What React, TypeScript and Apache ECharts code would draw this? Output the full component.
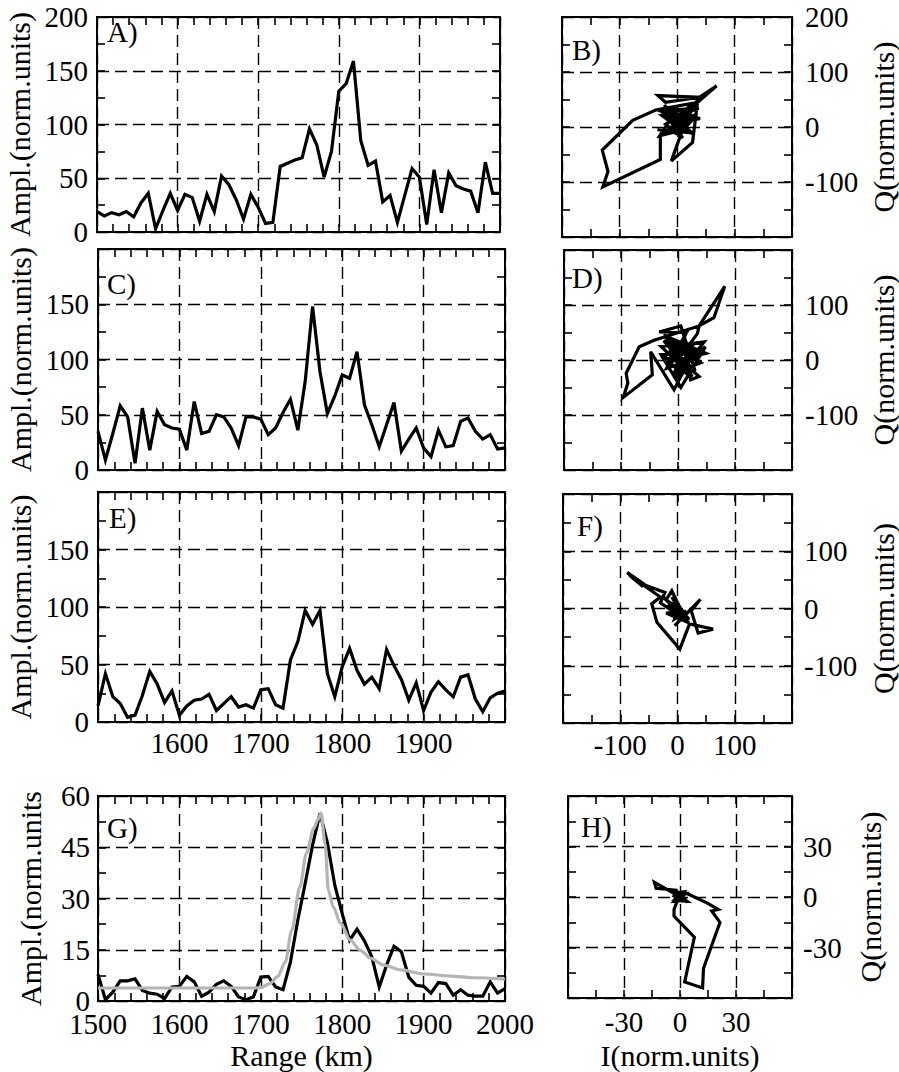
import React, { useEffect, useRef } from 'react';
import * as echarts from 'echarts';

// ---------------- DATA ----------------
const RANGE_KM = [
  1500, 1509.1, 1518.2, 1527.3, 1536.4, 1545.5, 1554.5, 1563.6, 1572.7, 1581.8, 1590.9,
  1600, 1609.1, 1618.2, 1627.3, 1636.4, 1645.5, 1654.5, 1663.6, 1672.7, 1681.8, 1690.9,
  1700, 1709.1, 1718.2, 1727.3, 1736.4, 1745.5, 1754.5, 1763.6, 1772.7, 1781.8, 1790.9,
  1800, 1809.1, 1818.2, 1827.3, 1836.4, 1845.5, 1854.5, 1863.6, 1872.7, 1881.8, 1890.9,
  1900, 1909.1, 1918.2, 1927.3, 1936.4, 1945.5, 1954.5, 1963.6, 1972.7, 1981.8, 1990.9,
  2000,
];

const AMP_A = [19, 15, 18, 16, 19, 14, 27, 36, 3, 20, 36, 20, 35, 32, 10, 35, 19, 52, 44, 30, 12, 35, 23, 8, 9, 61, 64, 67, 69, 96, 81, 51, 75, 131, 138, 159, 85, 62, 66, 28, 34, 9, 34, 59, 51, 7, 58, 18, 55, 43, 40, 38, 18, 65, 36, 36];
const AMP_C = [35, 9, 33, 58, 48, 6, 56, 18, 53, 41, 38, 37, 18, 62, 33, 35, 50, 48, 38, 22, 48, 48, 46, 32, 38, 52, 64, 36, 80, 148, 89, 51, 67, 86, 83, 107, 59, 41, 21, 41, 61, 17, 28, 38, 20, 12, 36, 21, 22, 44, 47, 35, 28, 32, 19, 20];
const AMP_E = [14, 42, 22, 16, 4, 6, 23, 44, 33, 17, 27, 6, 14, 19, 20, 24, 10, 16, 22, 13, 15, 12, 28, 29, 15, 12, 54, 70, 97, 85, 97, 42, 22, 48, 64, 45, 33, 39, 29, 63, 49, 37, 19, 34, 10, 26, 35, 28, 22, 39, 41, 20, 9, 21, 25, 27];
const AMP_G = [7.8, 0.4, 2.6, 5.9, 5.9, 6.5, 3.1, 2.3, 2.0, 0.7, 4.1, 4.3, 7.2, 5.6, 1.4, 2.6, 4.9, 5.9, 4.3, 1.2, 0.4, 1.2, 7.0, 7.2, 4.1, 3.3, 11.4, 23.7, 34.4, 45.6, 55, 46.4, 33.9, 25.6, 17.8, 21, 17.6, 12.9, 4.1, 10.5, 16, 14.4, 7.0, 4.6, 4.3, 2.3, 5.4, 5.1, 1.7, 3.3, 1.7, 1.4, 1.4, 5.6, 2.3, 3.6];

const MODEL_G_RANGE = [1500, 1550, 1600, 1650, 1690, 1700, 1711, 1721, 1730, 1738, 1748, 1756, 1765, 1770, 1774, 1779, 1783, 1789, 1798, 1810, 1822, 1835, 1851, 1872, 1901, 1933, 1962, 2000];
const MODEL_G_AMP = [3.8, 3.8, 3.8, 3.8, 3.8, 3.9, 5.1, 7.2, 11.4, 20.7, 33.4, 43.2, 50.5, 53, 55, 46, 32.4, 27.5, 22.7, 17.8, 14.9, 12.5, 10.5, 9.1, 7.9, 7.3, 6.8, 6.4];

const IQ_B_I = [10, -8, 14, -10, 15, -5, 22, -20, 2, 18, -28, 12, 30, -25, 8, -30, -10, 38, -32, 26, 8, -34, 20, -4, 5, 39, -33, -20, 39, 69, 36, -37, -77, -130, -120, -129, -29, -29, 20, -10, 27, 36, -5, 30, -22, 3, 35, -15, 25, -20, 10, -25, 5, 40, -10, 15];
const IQ_B_Q = [16, 12, -8, 13, 10, -13, 14, 30, -3, -10, 22, 16, 16, 20, -6, -16, 16, 34, 30, 12, -9, -5, -10, 7, -7, 54, 57, 45, 54, 75, 45, 31, 12, -42, -81, -109, -59, -16, 25, -62, -28, 48, 10, -15, 40, -2, 25, -10, 40, 5, -20, 30, 10, 15, 35, 5];

const IQ_D_I = [5, -15, 20, -25, 10, -5, 25, -20, 15, -10, 30, -30, 5, 35, -20, 15, -33, 5, 30, -12, 46, -5, 20, -25, 49, 0, 34, 37, 63, 82, 37, -42, -68, -91, -88, -96, -45, -48, -7, 15, 37, 22, 10, -20, 25, -15, 45, -30, 5, 48, -10, 40, -25, 15, 0, -12];
const IQ_D_Q = [10, 20, -5, 5, 35, -20, 15, 40, -25, 10, 30, 25, -10, 5, -15, 50, 51, 62, -20, 25, 33, -35, 20, 45, 12, 0, 48, 62, 77, 134, 62, 36, 24, -24, -42, -68, -27, 15, -54, -10, -30, -36, 25, -5, -30, 30, 12, 10, -50, 24, -25, -5, 35, -15, 20, -8];

const IQ_F_I = [5, -20, 10, -5, 3, -4, 15, -25, 20, -8, 12, -3, 8, -15, 12, -10, 6, -12, 18, -9, 10, -10, -20, 20, -8, -30, -22, -55, -88, -60, -84, -30, -45, -36, 4, 21, 62, 36, 24, 40, 10, -5, 15, -18, 6, -8, 20, -12, 8, -20, 15, -5, 3, -10, 12, -6];
const IQ_F_Q = [-10, 15, -5, -10, 2, 4, -15, 20, -20, 12, -8, 5, -12, 8, -14, 20, -5, 8, -16, 7, -10, 31, 15, -18, -5, 10, 28, 40, 63, 38, 58, 20, 8, -24, -71, -27, -36, -43, -4, 16, -15, -30, -10, 5, -8, -12, -25, 10, -20, -8, -5, -18, 5, -10, -20, -4];

const IQ_H_I = [-3, 0, 1.2, -2.4, 1.8, -3, 1.2, -0.6, 1.2, 0, -1.8, 2.4, -3, 1.8, -0.6, -1.2, 2.4, -2.4, 1.8, 0.6, 0, -0.6, -3, 3.6, -1.8, -1.2, -3.2, -3.2, 7.7, 2.5, 12.1, 12.6, 21.4, 17, 20.5, 14.4, 2, -3, -13.7, -12.8, -2, 1, -3, 3, -2, 1, -4, 3, -1, 2, -2, 0, 1, -3, 2, -3];
const IQ_H_Q = [3.6, 0.3, -1.2, 2.4, 3, -2.4, 1.2, -1.2, 0, -0.6, 1.8, -0.6, 3, -3, 0.6, 1.2, 1.8, -2.4, -1.8, -0.6, 0, 0.6, 3, -2.4, -1.8, -1.5, -7.4, -11.3, -23.9, -50.5, -54, -42.3, -15.1, -8.3, -7.4, -3.5, 3, 2, 8.7, 5.2, 4, -2, -3, 2, 3, -1.5, 1, -2, 1, 2, -1, -1.4, 1, -3, -1, 2];

// ---------------- STYLE / LAYOUT ----------------
const FONT = 'Liberation Serif';
const BLACK = '#000';
const GRAY = '#b4b4b4';
const TICK_FS = 29;
const NAME_FS = 30;

type Box = { left: number; top: number; right: number; bottom: number };
const GRIDS: Box[] = [
  { left: 97, top: 17, right: 500, bottom: 232 },   // A
  { left: 562, top: 17, right: 793, bottom: 237 },  // B
  { left: 98, top: 249, right: 505, bottom: 470 },  // C
  { left: 564, top: 250, right: 794, bottom: 470 }, // D
  { left: 98, top: 492, right: 505, bottom: 722 },  // E
  { left: 563, top: 494, right: 796, bottom: 723 }, // F
  { left: 98, top: 796, right: 505, bottom: 1001 }, // G
  { left: 568, top: 796, right: 792, bottom: 998 }, // H
];

const LETTERS: [string, number, number][] = [
  ['A)', 107, 32], ['B)', 572, 50], ['C)', 107, 284], ['D)', 572, 278],
  ['E)', 109, 518], ['F)', 577, 526], ['G)', 107, 828], ['H)', 581, 827],
];

const tick = { show: true, inside: true, length: 8, lineStyle: { color: BLACK, width: 1.6 } };
const minorT = (n: number) => ({ show: true, splitNumber: n, length: 8, lineStyle: { color: BLACK, width: 1.6 } });
const frameLine = { show: true, onZero: false, lineStyle: { color: BLACK, width: 2 } };
const dashed = { show: true, lineStyle: { color: BLACK, width: 1.4, type: [12, 6] } };
const nameStyle = { fontFamily: FONT, fontSize: NAME_FS, color: BLACK };

type Lab = { show: boolean; min?: boolean; max?: boolean; margin: number };

function axisPair(
  dim: 'x' | 'y', g: number, min: number, max: number, interval: number, minorSplit: number,
  mainPos: string, otherPos: string, lab: Lab, name?: { text: string; gap: number },
) {
  const base = {
    type: 'value', gridIndex: g, min, max, interval,
    axisLine: frameLine, axisTick: tick, minorTick: minorT(minorSplit),
    minorSplitLine: { show: false },
  };
  const main: any = {
    ...base, position: mainPos, splitLine: dashed,
    axisLabel: {
      show: lab.show, showMinLabel: lab.min ?? true, showMaxLabel: lab.max ?? true,
      margin: lab.margin, fontFamily: FONT, fontSize: TICK_FS, color: BLACK,
      formatter: (v: number) => String(v),
    },
  };
  if (name) {
    Object.assign(main, {
      name: name.text, nameLocation: 'middle', nameGap: name.gap, nameTextStyle: nameStyle,
      ...(dim === 'y' ? { nameRotate: 90 } : {}),
    });
  }
  const sec = { ...base, position: otherPos, splitLine: { show: false }, axisLabel: { show: false } };
  return [main, sec];
}

const pairs = (xs: number[], ys: number[]) => xs.map((x, i) => [x, ys[i]]);

function lineSeries(g: number, data: number[][], color: string, width: number, extra: any = {}) {
  return {
    type: 'line', xAxisIndex: 2 * g, yAxisIndex: 2 * g, data,
    showSymbol: false, symbol: 'none', clip: true,
    lineStyle: { color, width, join: 'miter', miterLimit: 4 }, ...extra,
  };
}

function buildOption(): any {
  const grid = GRIDS.map((b) => ({
    left: b.left, top: b.top, width: b.right - b.left, height: b.bottom - b.top,
    show: true, borderColor: BLACK, borderWidth: 2, backgroundColor: 'transparent',
  }));

  const xAxis = [
    ...axisPair('x', 0, 1500, 2000, 100, 5, 'bottom', 'top', { show: false, margin: 6 }),
    ...axisPair('x', 1, -200, 200, 100, 2, 'bottom', 'top', { show: false, margin: 6 }),
    ...axisPair('x', 2, 1500, 2000, 100, 5, 'bottom', 'top', { show: false, margin: 6 }),
    ...axisPair('x', 3, -200, 200, 100, 2, 'bottom', 'top', { show: false, margin: 6 }),
    ...axisPair('x', 4, 1500, 2000, 100, 5, 'bottom', 'top', { show: true, min: false, max: false, margin: 6 }),
    ...axisPair('x', 5, -200, 200, 100, 2, 'bottom', 'top', { show: true, min: false, max: false, margin: 7 }),
    ...axisPair('x', 6, 1500, 2000, 100, 5, 'bottom', 'top', { show: true, margin: 8 }, { text: 'Range (km)', gap: 39 }),
    ...axisPair('x', 7, -60, 60, 30, 2, 'bottom', 'top', { show: true, min: false, max: false, margin: 9 }, { text: 'I(norm.units)', gap: 42 }),
  ];

  const yAxis = [
    ...axisPair('y', 0, 0, 200, 50, 2, 'left', 'right', { show: true, margin: 9 }, { text: 'Ampl.(norm.units)', gap: 63 }),
    ...axisPair('y', 1, -200, 200, 100, 2, 'right', 'left', { show: true, min: false, margin: 13 }, { text: 'Q(norm.units)', gap: 76 }),
    ...axisPair('y', 2, 0, 200, 50, 2, 'left', 'right', { show: true, max: false, margin: 9 }, { text: 'Ampl.(norm.units)', gap: 63 }),
    ...axisPair('y', 3, -200, 200, 100, 2, 'right', 'left', { show: true, min: false, max: false, margin: 13 }, { text: 'Q(norm.units)', gap: 76 }),
    ...axisPair('y', 4, 0, 200, 50, 2, 'left', 'right', { show: true, max: false, margin: 9 }, { text: 'Ampl.(norm.units)', gap: 63 }),
    ...axisPair('y', 5, -200, 200, 100, 2, 'right', 'left', { show: true, min: false, max: false, margin: 12 }, { text: 'Q(norm.units)', gap: 76 }),
    ...axisPair('y', 6, 0, 60, 15, 2, 'left', 'right', { show: true, margin: 8 }, { text: 'Ampl.(norm.units', gap: 53 }),
    ...axisPair('y', 7, -60, 60, 30, 2, 'right', 'left', { show: true, min: false, max: false, margin: 11 }, { text: 'Q(norm.units)', gap: 63 }),
  ];

  const W = 3.2;
  const series = [
    lineSeries(0, pairs(RANGE_KM, AMP_A), BLACK, W),
    lineSeries(1, pairs(IQ_B_I, IQ_B_Q), BLACK, W),
    lineSeries(2, pairs(RANGE_KM, AMP_C), BLACK, W),
    lineSeries(3, pairs(IQ_D_I, IQ_D_Q), BLACK, W),
    lineSeries(4, pairs(RANGE_KM, AMP_E), BLACK, W),
    lineSeries(5, pairs(IQ_F_I, IQ_F_Q), BLACK, W),
    lineSeries(6, pairs(RANGE_KM, AMP_G), BLACK, W, { z: 2 }),
    lineSeries(6, pairs(MODEL_G_RANGE, MODEL_G_AMP), GRAY, 3.2, { z: 3, smooth: 0.3, smoothMonotone: 'x' }),
    lineSeries(7, pairs(IQ_H_I, IQ_H_Q), BLACK, W),
  ];

  const graphic = LETTERS.map(([t, x, y]) => ({
    type: 'text', x, y, z: 10,
    style: { text: t, fill: BLACK, fontFamily: FONT, fontSize: TICK_FS, verticalAlign: 'middle', align: 'left' },
  }));

  return { animation: false, backgroundColor: '#fff', grid, xAxis, yAxis, series, graphic };
}

export default function App() {
  const ref = useRef<HTMLDivElement>(null);
  useEffect(() => {
    if (!ref.current) return;
    const chart = echarts.init(ref.current, undefined, { renderer: 'svg' });
    chart.setOption(buildOption());
    return () => chart.dispose();
  }, []);
  return (
    <div
      ref={ref}
      style={{ position: 'absolute', left: 0, top: 0, width: 899, height: 1072, background: '#fff' }}
    />
  );
}
